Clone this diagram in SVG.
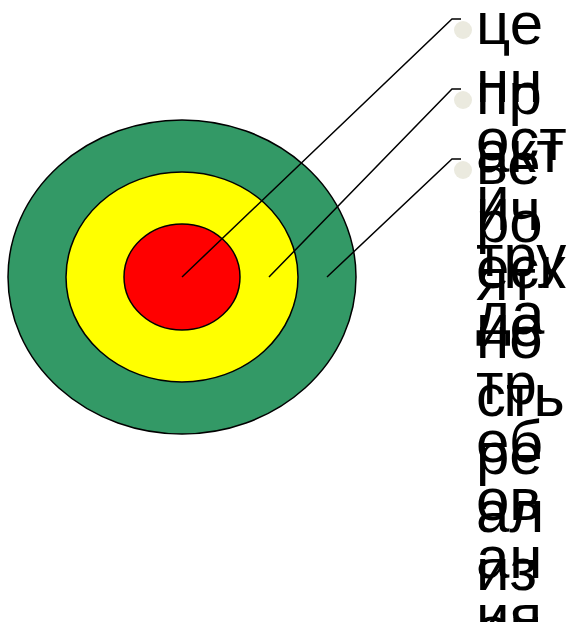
<svg xmlns="http://www.w3.org/2000/svg" width="571" height="622" viewBox="0 0 571 622">
<style>
.ring{stroke:#000;stroke-width:1.5}
.conn{fill:none;stroke:#000;stroke-width:1.5}
.bullet{fill:#EBEADF}
.lbl{font-family:"Liberation Sans",Arial,sans-serif;font-size:60px;fill:#000}
</style>
<rect width="571" height="622" fill="#fff"/>
<g id="target">
<g id="outer"><ellipse class="ring" cx="182" cy="277" rx="174" ry="157" fill="#339966"/></g>
<g id="middle"><ellipse class="ring" cx="182" cy="277" rx="116" ry="105" fill="#FFFF00"/></g>
<g id="center"><ellipse class="ring" cx="182" cy="277" rx="58" ry="53" fill="#FF0000"/></g>
</g>
<g id="connectors">
<polyline class="conn" points="182,277 452,19 461,19"/>
<polyline class="conn" points="269,277 452,89 461,89"/>
<polyline class="conn" points="327,277 452,159 461,159"/>
</g>
<g id="item1">
<circle class="bullet" cx="463" cy="30" r="9"/>
<text class="lbl" x="476" y="44"><tspan x="476" y="44">це</tspan><tspan x="476" y="102">нн</tspan><tspan x="476" y="160">ост</tspan><tspan x="476" y="218">и</tspan><tspan x="476" y="276">тру</tspan><tspan x="476" y="334">да</tspan></text>
</g>
<g id="item2">
<circle class="bullet" cx="463" cy="100" r="9"/>
<text class="lbl" x="476" y="114"><tspan x="476" y="114">пр</tspan><tspan x="476" y="172">акт</tspan><tspan x="476" y="230">ич</tspan><tspan x="476" y="288">еск</tspan><tspan x="476" y="346">ие</tspan><tspan x="476" y="404">тр</tspan><tspan x="476" y="462">еб</tspan><tspan x="476" y="520">ов</tspan><tspan x="476" y="578">ан</tspan><tspan x="476" y="636">ия</tspan></text>
</g>
<g id="item3">
<circle class="bullet" cx="463" cy="170" r="9"/>
<text class="lbl" x="476" y="184"><tspan x="476" y="184">ве</tspan><tspan x="476" y="242">ро</tspan><tspan x="476" y="300">ят</tspan><tspan x="476" y="358">но</tspan><tspan x="476" y="416">сть</tspan><tspan x="476" y="474">ре</tspan><tspan x="476" y="532">ал</tspan><tspan x="476" y="590">из</tspan><tspan x="476" y="648">ац</tspan></text>
</g>
</svg>
